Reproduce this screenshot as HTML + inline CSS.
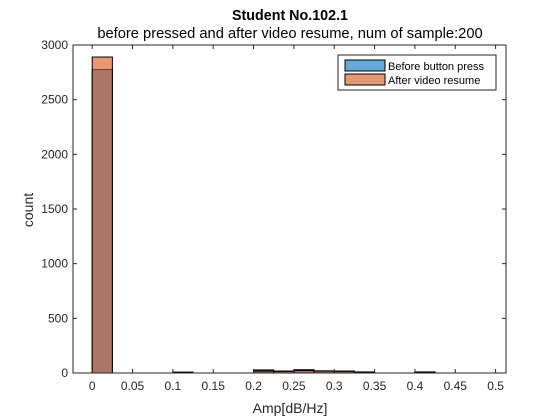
<!DOCTYPE html>
<html><head><meta charset="utf-8">
<style>
body{margin:0;background:#fff;}
svg{display:block;font-family:"Liberation Sans",Arial,sans-serif;}
</style></head>
<body>
<svg id="chart" width="560" height="420" viewBox="0 0 560 420">
<rect x="0" y="0" width="560" height="420" fill="#fff"/>
<rect x="73" y="45" width="433" height="328" fill="#fff"/>
<text x="290" y="20" text-anchor="middle" font-size="14.3" font-weight="bold" fill="#000">Student No.102.1</text>
<text x="290" y="38" text-anchor="middle" font-size="14.7" fill="#000">before pressed and after video resume, num of sample:200</text>
<g id="bars"></g>
<g id="axes"></g>
<text x="290" y="413" text-anchor="middle" font-size="14" fill="#262626">Amp[dB/Hz]</text>
<text transform="translate(33,210) rotate(-90)" text-anchor="middle" font-size="14" fill="#262626">count</text>
<g>
<rect x="338" y="55" width="158" height="35" fill="#fff" stroke="#262626" stroke-width="1"/>
<rect x="345" y="60" width="40" height="11" fill="#66aad7" stroke="#000" stroke-width="1"/>
<text x="388" y="70" font-size="11" fill="#000">Before button press</text>
<rect x="345" y="74" width="40" height="11" fill="#e89875" stroke="#000" stroke-width="1"/>
<text x="388" y="84" font-size="11" fill="#000">After video resume</text>
</g>
</svg>
<script>
const binEdges = [0,0.025,0.05,0.075,0.1,0.125,0.15,0.175,0.2,0.225,0.25,0.275,0.3,0.325,0.35,0.375,0.4,0.425,0.45,0.475];
const beforeCounts = [2775,0,0,0,8,0,0,0,28,18,30,20,18,10,0,0,10,0,0,0];
const afterCounts  = [2890,0,0,0,6,0,0,0,18,15,22,18,15,8,0,0,8,0,0,0];
const binWidth = 0.025;
const xTicks = [0,0.05,0.1,0.15,0.2,0.25,0.3,0.35,0.4,0.45,0.5];
const xTickLabels = ["0","0.05","0.1","0.15","0.2","0.25","0.3","0.35","0.4","0.45","0.5"];
const yTicks = [0,500,1000,1500,2000,2500,3000];
const yTickLabels = ["0","500","1000","1500","2000","2500","3000"];

const NS="http://www.w3.org/2000/svg";
const L=73,R=506,T=45,B=373;
const xMin=-0.0238,xMax=0.5129,yMin=0,yMax=3000;
const xs=v=>L+(v-xMin)/(xMax-xMin)*(R-L);
const ys=v=>B-(v-yMin)/(yMax-yMin)*(B-T);
function mk(tag,attrs,parent){const e=document.createElementNS(NS,tag);for(const k in attrs)e.setAttribute(k,attrs[k]);parent.appendChild(e);return e;}
const bars=document.getElementById('bars');
function drawSeries(counts,fill,name){
  counts.forEach((c,i)=>{
    if(c<=0)return;
    const x0=xs(binEdges[i]),x1=xs(binEdges[i]+binWidth);
    const r=mk('rect',{x:x0,y:ys(c),width:x1-x0,height:ys(0)-ys(c),fill:fill,'fill-opacity':0.6,stroke:'#000','stroke-width':1},bars);
    
    
  });
}
drawSeries(beforeCounts,'#0072bd','before');
drawSeries(afterCounts,'#d95319','after');
const ax=document.getElementById('axes');
const box=mk('rect',{x:L,y:T,width:R-L,height:B-T,fill:'none',stroke:'#262626','stroke-width':1},ax);


xTicks.forEach((v,i)=>{
  const x=xs(v);
  mk('line',{x1:x,x2:x,y1:B,y2:B-4,stroke:'#262626'},ax);
  mk('line',{x1:x,x2:x,y1:T,y2:T+4,stroke:'#262626'},ax);
  const t=mk('text',{x:x,y:B+17,'text-anchor':'middle','font-size':12,fill:'#262626'},ax);
  t.textContent=xTickLabels[i];
  
  
});
yTicks.forEach((v,i)=>{
  const y=ys(v);
  mk('line',{x1:L,x2:L+4,y1:y,y2:y,stroke:'#262626'},ax);
  mk('line',{x1:R,x2:R-4,y1:y,y2:y,stroke:'#262626'},ax);
  const t=mk('text',{x:L-5,y:y+4,'text-anchor':'end','font-size':12,fill:'#262626'},ax);
  t.textContent=yTickLabels[i];
  
  
});
</script>
</body></html>
